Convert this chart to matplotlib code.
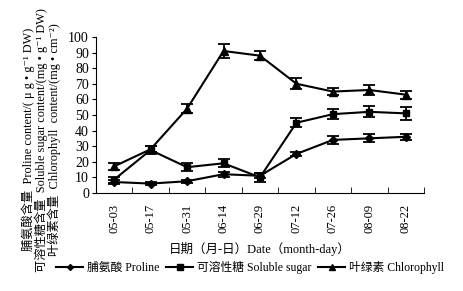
import numpy as np
import matplotlib.pyplot as plt
from matplotlib.lines import Line2D

plt.rcParams['font.family'] = ['Liberation Serif', 'Noto Sans CJK SC', 'DejaVu Serif']
plt.rcParams['font.size'] = 9

dates = ['05-03', '05-17', '05-31', '06-14', '06-29', '07-12', '07-26', '08-09', '08-22']
proline = [7, 6, 7.5, 12, 11, 25, 34, 35, 36]
proline_err = [1.5, 1, 1, 1.5, 1.5, 1.5, 2.5, 2.5, 2]
sugar = [8.5, 27.5, 16.5, 19, 10, 45, 50.5, 52, 51]
sugar_err = [2, 2.5, 2.5, 2.5, 3, 3, 3, 3.5, 4]
chloro = [17, 28, 54, 91, 88, 70, 65, 66, 63]
chloro_err = [2, 2, 3, 4.5, 3, 3.5, 2.5, 3, 2.5]

labels = ['脯氨酸 Proline', '可溶性糖 Soluble sugar', '叶绿素 Chlorophyll']

fig = plt.figure(figsize=(4.63, 2.91), dpi=100)
ax = fig.add_axes([0.207, 0.337, 0.709, 0.536])

x = np.arange(len(dates))
handles = []
for y, e, m, ms, lab in [(proline, proline_err, 'D', 4, labels[0]),
                         (sugar, sugar_err, 's', 5, labels[1]),
                         (chloro, chloro_err, '^', 6, labels[2])]:
    ax.errorbar(x, y, yerr=e, color='black', marker=m, markersize=ms,
                linewidth=1.5, elinewidth=1.3, capsize=4, capthick=1.3)
    handles.append(Line2D([], [], color='black', marker=m, markersize=ms - 1,
                          linewidth=1.5, label=lab))

ax.set_xlim(-0.5, len(dates) - 0.5)
ax.set_ylim(0, 100)
ax.set_yticks(range(0, 101, 10))
ax.set_xticks(x)
ax.set_xticklabels(dates, rotation=90)
ax.set_xticks(np.arange(-0.5, len(dates), 1), minor=True)
ax.tick_params(axis='x', which='major', length=0, pad=8)
ax.tick_params(axis='x', which='minor', direction='in', length=4)
ax.tick_params(axis='y', length=3, labelsize=10, pad=2)
ax.spines['top'].set_visible(False)
ax.spines['right'].set_visible(False)

ax.set_xlabel('日期（月-日）Date（month-day）', labelpad=6)

ylabels = ['脯氨酸含量  Proline content/( μ g • g⁻¹ DW)',
           '可溶性糖含量  Soluble sugar content/(mg • g⁻¹ DW)',
           '叶绿素含量  Chlorophyll  content/(mg • cm⁻²)']
for xpos, txt in zip([0.061, 0.089, 0.117], ylabels):
    fig.text(xpos, 0.52, txt, rotation=90, ha='center', va='center', fontsize=8.8)

fig.legend(handles=handles, loc='center', bbox_to_anchor=(0.54, 0.08), ncol=3,
           frameon=False, handlelength=2.3, columnspacing=0.6, handletextpad=0.3,
           fontsize=8.5)

fig.savefig('out.png', dpi=100)
